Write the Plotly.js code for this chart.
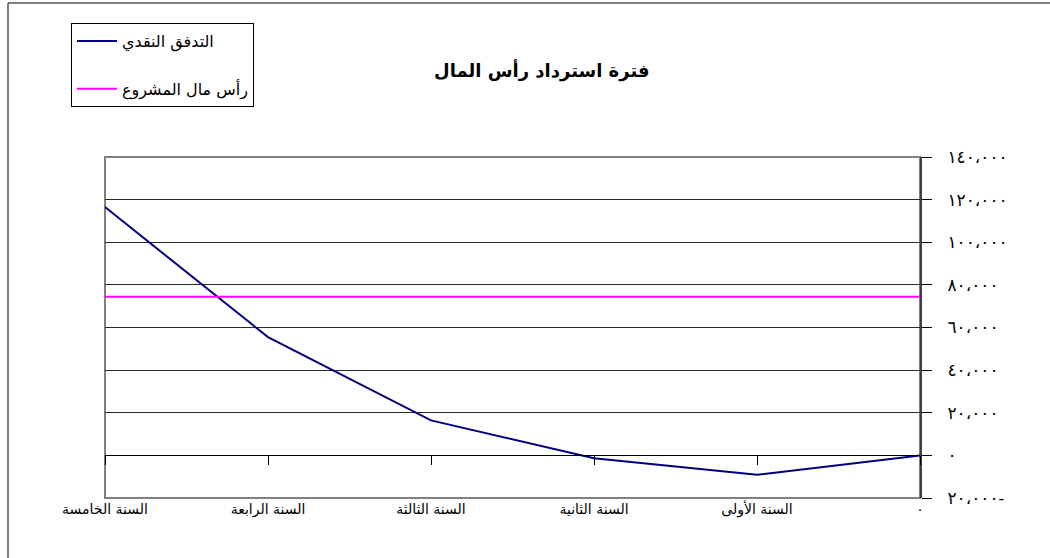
<!DOCTYPE html>
<html>
<head>
<meta charset="utf-8">
<script src="https://cdn.plot.ly/plotly-3.0.1.min.js"></script>
<style>
  html, body { margin: 0; padding: 0; background: #ffffff; }
  #chart { width: 1050px; height: 558px; }
</style>
</head>
<body>
<div id="chart"></div>
<script>
// Categories, from the start (right side) to the fifth year (left side)
const categories = ["٠", "السنة الأولى", "السنة الثانية", "السنة الثالثة", "السنة الرابعة", "السنة الخامسة"];
// Cash flow series
const cashFlow = [0, -9100, -1300, 16400, 55500, 116500];
// Project capital (constant level)
const projectCapital = 74400;
const seriesNames = ["التدفق النقدي", "رأس مال المشروع"];

// Value axis
const yMin = -20000;
const yMax = 140000;
const yTickVals = [-20000, 0, 20000, 40000, 60000, 80000, 100000, 120000, 140000];
const yTickText = ["٢٠،٠٠٠-", "٠", "٢٠،٠٠٠", "٤٠،٠٠٠", "٦٠،٠٠٠", "٨٠،٠٠٠", "١٠٠،٠٠٠", "١٢٠،٠٠٠", "١٤٠،٠٠٠"];

const titleText = "فترة استرداد رأس المال";

const FONT = "'DejaVu Serif', 'DejaVu Sans', serif";

const traces = [
  {
    type: "scatter", mode: "lines",
    x: categories, y: cashFlow,
    name: seriesNames[0], legendgroup: "a",
    line: { color: "#000080", width: 2 },
    xaxis: "x", yaxis: "y",
    hoverinfo: "x+y"
  },
  {
    type: "scatter", mode: "lines",
    x: categories, y: categories.map(() => projectCapital),
    name: seriesNames[1], legendgroup: "b",
    line: { color: "#FF00FF", width: 2 },
    xaxis: "x2", yaxis: "y",
    hoverinfo: "x+y"
  }
];

const zeroPos = (0 - yMin) / (yMax - yMin);
const catRange = [categories.length - 1, 0];

const layout = {
  width: 1050, height: 558,
  margin: { l: 105, r: 130, t: 157, b: 60, pad: 0 },
  paper_bgcolor: "#ffffff",
  plot_bgcolor: "#ffffff",
  font: { family: FONT, size: 14, color: "#000000" },
  title: {
    text: "<b>" + titleText + "</b>",
    font: { family: FONT, size: 18, color: "#000000" },
    x: 0.516, xref: "container", xanchor: "center",
    y: 0.873, yref: "container", yanchor: "middle"
  },
  showlegend: true,
  legend: {
    x: -0.0417, xanchor: "left",
    y: 1.393, yanchor: "top",
    bgcolor: "#ffffff", bordercolor: "#000000", borderwidth: 1,
    font: { family: FONT, size: 16, color: "#000000" },
    traceorder: "grouped", tracegroupgap: 24,
    itemwidth: 40
  },
  xaxis: {
    type: "category",
    categoryorder: "array", categoryarray: categories,
    range: catRange,
    showgrid: false, zeroline: false, showline: false,
    ticks: "", ticklabelstandoff: 1,
    tickfont: { family: FONT, size: 14, color: "#000000" },
    fixedrange: true
  },
  xaxis2: {
    type: "category",
    categoryorder: "array", categoryarray: categories,
    range: catRange,
    overlaying: "x", anchor: "free", position: zeroPos,
    showgrid: false, zeroline: false,
    showline: true, linecolor: "#000000", linewidth: 1,
    ticks: "outside", ticklen: 9, tickwidth: 1, tickcolor: "#000000",
    showticklabels: false,
    fixedrange: true
  },
  yaxis: {
    side: "right",
    range: [yMin, yMax],
    tickvals: yTickVals, ticktext: yTickText,
    showgrid: true, gridcolor: "#2a2a2a", gridwidth: 1,
    zeroline: false,
    showline: true, linecolor: "#404040", linewidth: 2,
    ticks: "outside", ticklen: 10, tickwidth: 1, tickcolor: "#000000",
    ticklabelstandoff: 12,
    tickfont: { family: FONT, size: 17, color: "#000000" },
    fixedrange: true
  },
  shapes: [
    // plot area border (gray)
    { type: "rect", xref: "x domain", yref: "y domain", x0: 0, x1: 1, y0: 0, y1: 1,
      line: { color: "#808080", width: 2 }, fillcolor: "rgba(0,0,0,0)", layer: "below" },
    // outer chart frame (left and top edges)
    { type: "line", xref: "paper", yref: "paper", x0: -0.119, x1: -0.119, y0: -0.2, y1: 1.4516,
      line: { color: "#000000", width: 1 } },
    { type: "line", xref: "paper", yref: "paper", x0: -0.119, x1: 1.2, y0: 1.4516, y1: 1.4516,
      line: { color: "#000000", width: 1 } }
  ]
};

Plotly.newPlot("chart", traces, layout, { displayModeBar: false, staticPlot: true });
</script>
</body>
</html>
